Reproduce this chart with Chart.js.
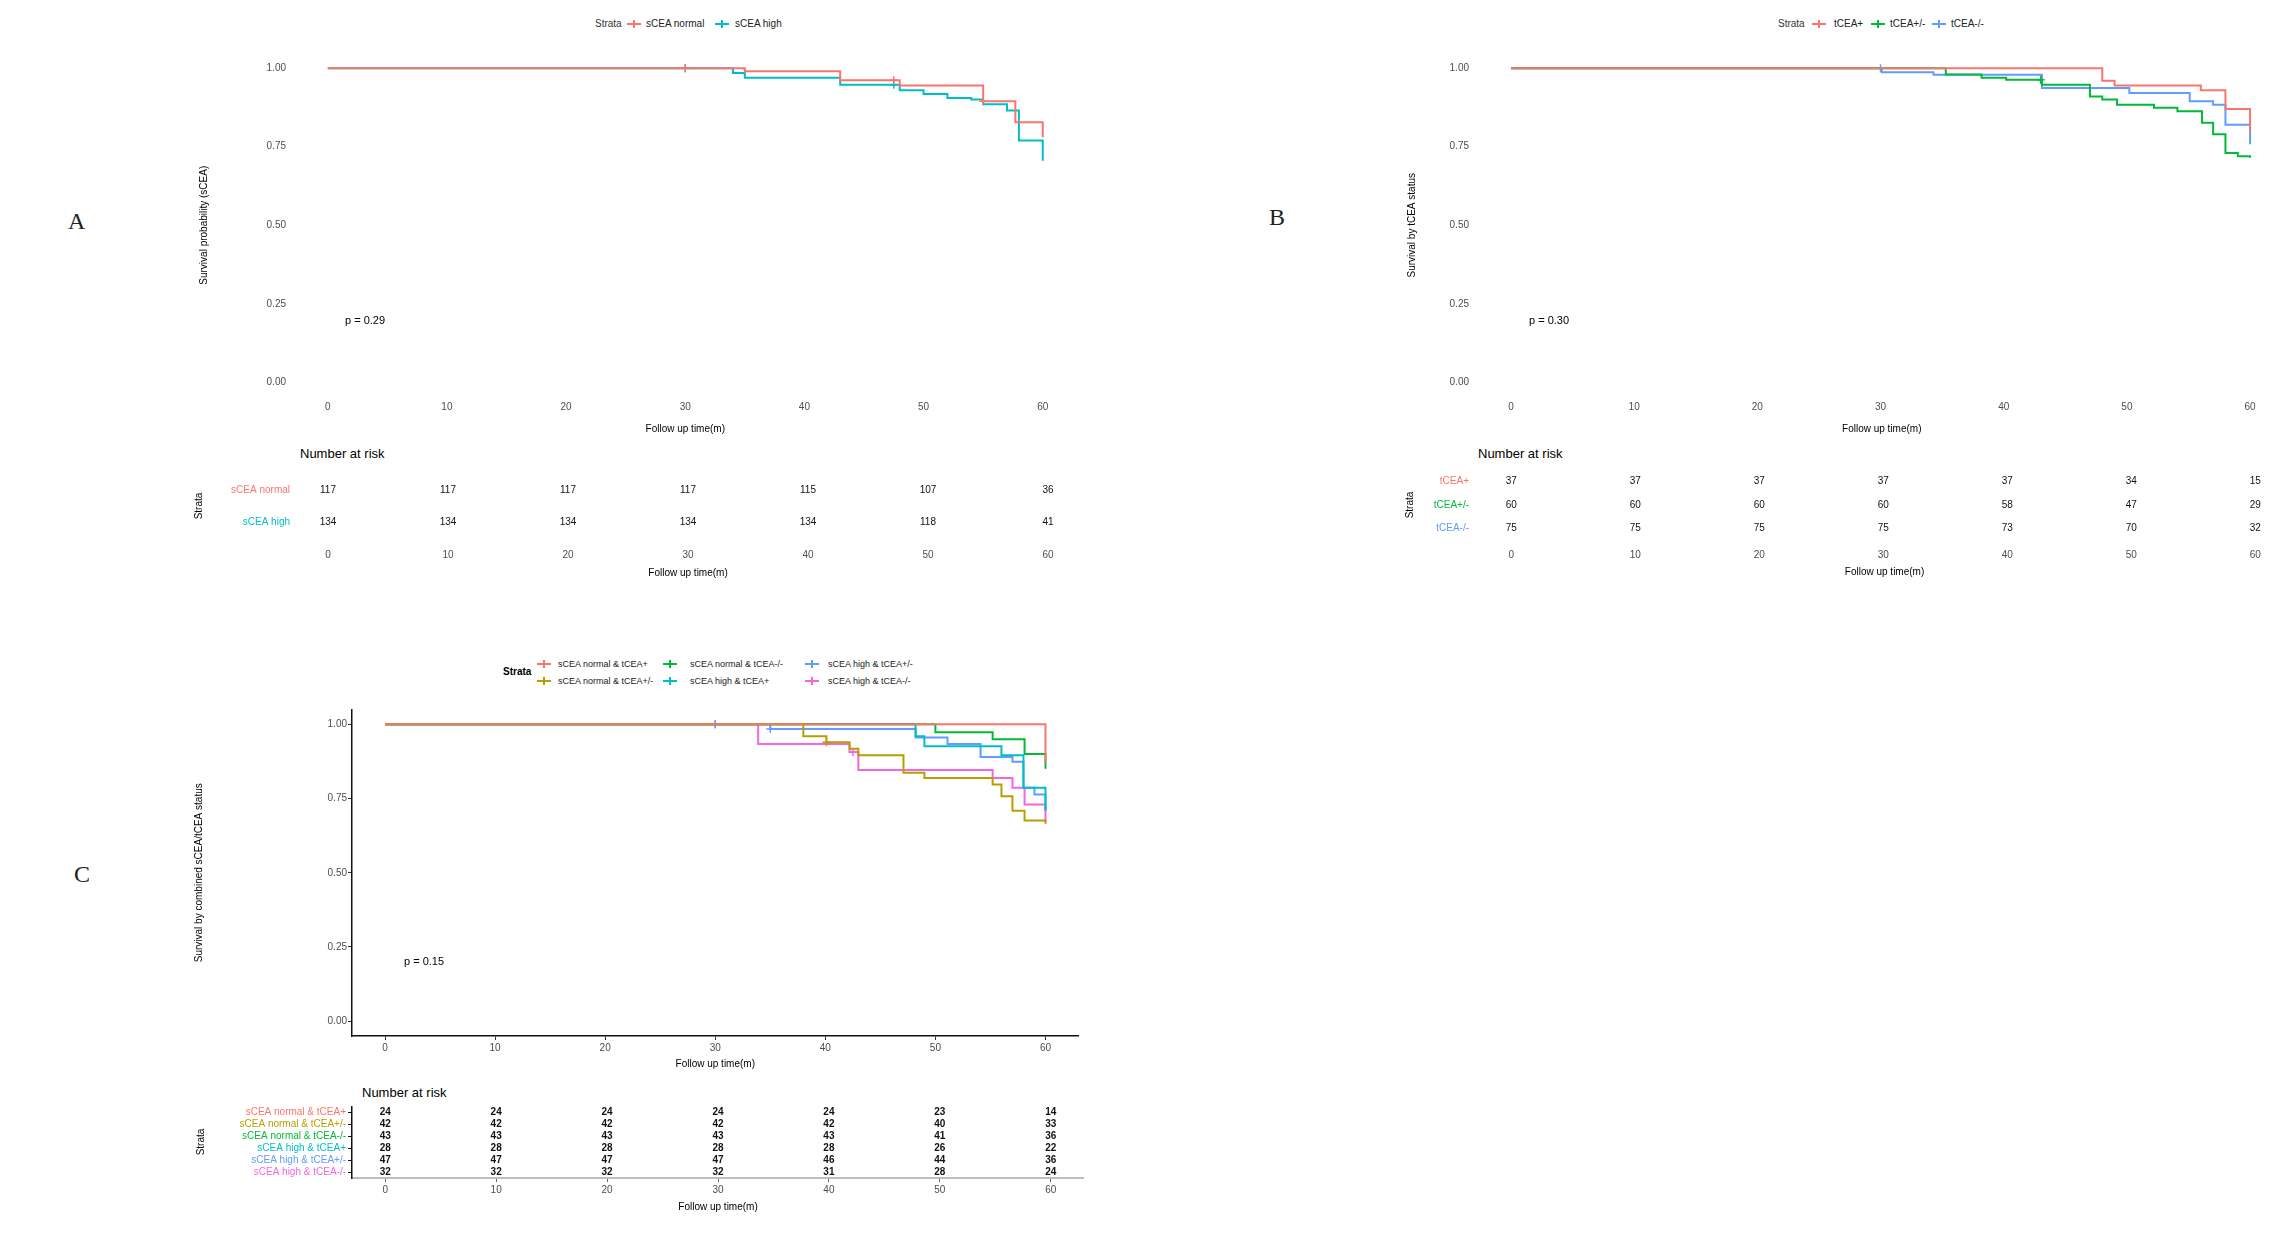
<!DOCTYPE html>
<html>
<head>
<meta charset="utf-8">
<script src="https://cdn.jsdelivr.net/npm/chart.js@4.4.1/dist/chart.umd.min.js"></script>
<style>
  html{margin:0;padding:0;width:2295px;height:1255px;overflow:hidden;background:#fff;}
  body{margin:0;padding:0;width:2295px;height:1255px;position:relative;overflow:hidden;background:#fff;font-family:"Liberation Sans",Arial,sans-serif;}
  .box{position:absolute;}
  .t{position:absolute;white-space:nowrap;transform:translateY(-50%);line-height:1;}
  .ln{position:absolute;height:2px;}
  .vt{position:absolute;width:1.5px;height:8px;}
</style>
</head>
<body>
<script>
// ---------------- DATA ----------------
const months = [0, 10, 20, 30, 40, 50, 60];
const yTicks = [0, 0.25, 0.5, 0.75, 1];

// Panel A (sCEA)
const strataA = ['sCEA normal', 'sCEA high'];
const colorsA = ['#F8766D', '#00BFC4'];
const timeA_normal = [0, 35, 43, 48, 55, 57.7, 60];
const survA_normal = [1, 0.99, 0.962, 0.945, 0.895, 0.828, 0.78];
const timeA_high = [0, 34, 35, 43, 48, 50, 52, 54, 55, 57, 58, 60];
const survA_high = [1, 0.985, 0.97, 0.947, 0.93, 0.918, 0.905, 0.9, 0.885, 0.865, 0.77, 0.705];
const censA_normal_t = [30, 47.5, 55];
const censA_normal_s = [1, 0.962, 0.895];
const censA_high_t = [30, 47.5];
const censA_high_s = [1, 0.947];
const riskA_normal = [117, 117, 117, 117, 115, 107, 36];
const riskA_high = [134, 134, 134, 134, 134, 118, 41];
const pA = 'p = 0.29';

// Panel B (tCEA)
const strataB = ['tCEA+', 'tCEA+/-', 'tCEA-/-'];
const colorsB = ['#F8766D', '#00BA38', '#619CFF'];
const timeB_pos = [0, 48, 49, 56, 58, 60];
const survB_pos = [1, 0.96, 0.945, 0.93, 0.87, 0.8];
const timeB_pm = [0, 35.3, 38.2, 40.2, 43.1, 47, 48, 49.2, 52.2, 54.1, 56.1, 57, 58, 59, 60];
const survB_pm = [1, 0.98, 0.97, 0.963, 0.947, 0.91, 0.9, 0.884, 0.874, 0.863, 0.826, 0.79, 0.73, 0.72, 0.715];
const timeB_neg = [0, 30.1, 34.3, 43.1, 50.2, 55.1, 57, 58, 60];
const survB_neg = [1, 0.987, 0.979, 0.937, 0.921, 0.895, 0.884, 0.82, 0.758];
const censB_pm_t = [43];
const censB_pm_s = [0.963];
const censB_neg_t = [30];
const censB_neg_s = [1];
const riskB_pos = [37, 37, 37, 37, 37, 34, 15];
const riskB_pm = [60, 60, 60, 60, 58, 47, 29];
const riskB_neg = [75, 75, 75, 75, 73, 70, 32];
const pB = 'p = 0.30';

// Panel C (combined)
const strataC = ['sCEA normal & tCEA+', 'sCEA normal & tCEA+/-', 'sCEA normal & tCEA-/-',
                 'sCEA high & tCEA+', 'sCEA high & tCEA+/-', 'sCEA high & tCEA-/-'];
const colorsC = ['#F8766D', '#B79F00', '#00BA38', '#00BFC4', '#619CFF', '#F564E3'];
const timeC1 = [0, 60];
const survC1 = [1, 0.87];
const timeC2 = [0, 38, 40.1, 42.2, 43, 47.1, 49, 55.2, 56, 57, 58.1, 60];
const survC2 = [1, 0.96, 0.94, 0.918, 0.896, 0.837, 0.819, 0.797, 0.758, 0.709, 0.676, 0.665];
const timeC3 = [0, 50, 55.2, 58.1, 60];
const survC3 = [1, 0.973, 0.95, 0.9, 0.85];
const timeC4 = [0, 48.2, 49, 56, 58, 60];
const survC4 = [1, 0.96, 0.926, 0.896, 0.786, 0.71];
const timeC5 = [0, 35, 48.2, 51.1, 54.1, 57, 58, 59, 60];
const survC5 = [1, 0.984, 0.956, 0.934, 0.89, 0.874, 0.786, 0.764, 0.71];
const timeC6 = [0, 33.9, 42.2, 43, 55.2, 57, 58.1, 60];
const survC6 = [1, 0.934, 0.907, 0.846, 0.819, 0.786, 0.73, 0.67];
const censC5_t = [30, 35]; const censC5_s = [1, 0.984];
const censC6_t = [30, 42.5]; const censC6_s = [1, 0.907];
const censC2_t = [40.1]; const censC2_s = [0.94];
const riskC = [
  [24, 24, 24, 24, 24, 23, 14],
  [42, 42, 42, 42, 42, 40, 33],
  [43, 43, 43, 43, 43, 41, 36],
  [28, 28, 28, 28, 28, 26, 22],
  [47, 47, 47, 47, 46, 44, 36],
  [32, 32, 32, 32, 31, 28, 24]
];
const pC = 'p = 0.15';

const xTitle = 'Follow up time(m)';
const yTitleA = 'Survival probability (sCEA)';
const yTitleB = 'Survival by tCEA status';
const yTitleC = 'Survival by combined sCEA/tCEA status';

// ---------------- HELPERS ----------------
const FONT = '"Liberation Sans", Arial, sans-serif';
const TICK_COLOR = '#4d4d4d';

function box(left, top, width, height) {
  const d = document.createElement('div');
  d.className = 'box';
  d.style.left = left + 'px'; d.style.top = top + 'px';
  d.style.width = width + 'px'; d.style.height = height + 'px';
  const c = document.createElement('canvas');
  d.appendChild(c);
  document.body.appendChild(d);
  return c;
}
function txt(x, y, s, size, color, extra) {
  const d = document.createElement('div');
  d.className = 't';
  d.textContent = s;
  d.style.left = x + 'px'; d.style.top = y + 'px';
  d.style.fontSize = size + 'px';
  d.style.color = color || '#000';
  if (extra) Object.assign(d.style, extra);
  document.body.appendChild(d);
  return d;
}
function key(x, y, color) {
  const l = document.createElement('div');
  l.className = 'ln'; l.style.left = x + 'px'; l.style.top = (y - 1) + 'px';
  l.style.width = '14px'; l.style.background = color;
  document.body.appendChild(l);
  const v = document.createElement('div');
  v.className = 'vt'; v.style.left = (x + 6) + 'px'; v.style.top = (y - 4) + 'px';
  v.style.background = color;
  document.body.appendChild(v);
}
function noPadY(s, w) { s.width = w; s.paddingTop = 0; s.paddingBottom = 0; }
function noPadX(s, h) { s.height = h; s.paddingLeft = 0; s.paddingRight = 0; }

function kmChart(canvas, series, o) {
  const datasets = [];
  series.forEach(s => {
    datasets.push({
      type: 'line', data: s.t.map((t, i) => ({x: t, y: s.s[i]})),
      borderColor: s.color, backgroundColor: s.color, borderWidth: 2,
      stepped: true, pointRadius: 0, fill: false
    });
    if (s.ct) datasets.push({
      type: 'scatter', data: s.ct.map((t, i) => ({x: t, y: s.cs[i]})),
      pointStyle: 'cross', pointRadius: 4, borderColor: s.color, borderWidth: 1.5,
      backgroundColor: s.color, showLine: false
    });
  });
  const axisOn = !!o.axis;
  new Chart(canvas, {
    type: 'line',
    data: {datasets},
    options: {
      responsive: true, maintainAspectRatio: false, animation: false,
      layout: {padding: 0},
      plugins: {legend: {display: false}, tooltip: {enabled: false}},
      scales: {
        x: {
          type: 'linear', min: -3, max: o.xMax || 63,
          afterBuildTicks: s => { s.ticks = months.map(v => ({value: v})); },
          ticks: {color: TICK_COLOR, font: {family: FONT, size: 10}, padding: o.xPad, maxRotation: 0, autoSkip: false,
                  callback: v => String(v)},
          grid: {display: axisOn, drawOnChartArea: false, drawTicks: axisOn, tickLength: 4, color: '#333'},
          border: {display: axisOn, color: '#111', width: 1.5},
          title: {display: true, text: xTitle, color: '#000', font: {family: FONT, size: 10}, padding: {top: 2, bottom: 4}},
          afterFit: s => noPadX(s, o.xH)
        },
        y: {
          type: 'linear', min: -0.05, max: 1.05,
          afterBuildTicks: s => { s.ticks = yTicks.map(v => ({value: v})); },
          ticks: {color: TICK_COLOR, font: {family: FONT, size: 10}, padding: o.yPad, callback: v => Number(v).toFixed(2)},
          grid: {display: axisOn, drawOnChartArea: false, drawTicks: axisOn, tickLength: 4, color: '#333'},
          border: {display: axisOn, color: '#111', width: 1.5},
          title: {display: true, text: o.yTitle, color: '#000', font: {family: FONT, size: 10}, padding: {top: 4, bottom: 4}},
          afterFit: s => noPadY(s, o.yW)
        }
      }
    }
  });
}

const riskPlugin = {
  id: 'riskNums',
  afterDraw(chart, args, opts) {
    const {ctx, scales: {x, y}} = chart;
    ctx.save();
    ctx.font = opts.font || ('10px ' + FONT);
    ctx.fillStyle = '#111';
    ctx.textAlign = 'center';
    ctx.textBaseline = 'middle';
    opts.rows.forEach((row, r) => {
      row.forEach((v, i) => {
        ctx.fillText(String(v), x.getPixelForValue(months[i]), y.getPixelForValue(r + 1));
      });
    });
    ctx.restore();
  }
};

function riskChart(canvas, names, colors, rows, o) {
  const n = names.length;
  const axisOn = !!o.axis;
  new Chart(canvas, {
    type: 'scatter',
    data: {datasets: []},
    plugins: [riskPlugin],
    options: {
      responsive: true, maintainAspectRatio: false, animation: false,
      layout: {padding: 0},
      plugins: {legend: {display: false}, tooltip: {enabled: false}, riskNums: {rows, font: o.font}},
      scales: {
        x: {
          type: 'linear', min: -3, max: o.xMax || 63,
          afterBuildTicks: s => { s.ticks = months.map(v => ({value: v})); },
          ticks: {color: TICK_COLOR, font: {family: FONT, size: 10}, padding: o.xPad, maxRotation: 0, autoSkip: false,
                  callback: v => String(v)},
          grid: {display: axisOn, drawOnChartArea: false, drawTicks: axisOn, tickLength: 4, color: '#666'},
          border: {display: axisOn, color: '#bdbdbd', width: 2},
          title: {display: true, text: xTitle, color: '#000', font: {family: FONT, size: 10}, padding: {top: 2, bottom: 4}},
          afterFit: s => noPadX(s, o.xH)
        },
        y: {
          type: 'linear', min: 0.5, max: n + 0.5, reverse: true,
          afterBuildTicks: s => { s.ticks = names.map((nm, i) => ({value: i + 1})); },
          ticks: {font: {family: FONT, size: o.labelSize || 10}, padding: o.yPad, autoSkip: false,
                  color: c => colors[c.index], callback: (v, i) => names[i]},
          grid: {display: axisOn, drawOnChartArea: false, drawTicks: axisOn, tickLength: 4, color: '#111'},
          border: {display: axisOn, color: '#111', width: 1.5},
          title: {display: true, text: 'Strata', color: '#000', font: {family: FONT, size: 10}, padding: {top: 4, bottom: 4}},
          afterFit: s => noPadY(s, o.yW)
        }
      }
    }
  });
}

// ---------------- PANEL LETTERS ----------------
const serif = {fontFamily: '"Liberation Serif","Times New Roman",serif'};
txt(68, 221, 'A', 24, '#222', serif);
txt(1269, 217, 'B', 24, '#222', serif);
txt(74, 874, 'C', 24, '#222', serif);

// ---------------- PANEL A ----------------
txt(595, 24, 'Strata', 10, '#333');
key(627, 24, colorsA[0]); txt(646, 24, strataA[0], 10, '#222');
key(715, 24, colorsA[1]); txt(735, 24, strataA[1], 10, '#222');

kmChart(box(194, 47, 890, 392), [
  {t: timeA_normal, s: survA_normal, color: colorsA[0], ct: censA_normal_t, cs: censA_normal_s},
  {t: timeA_high, s: survA_high, color: colorsA[1], ct: censA_high_t, cs: censA_high_s}
], {yTitle: yTitleA, yW: 98, xH: 41, xPad: 3, yPad: 6, axis: false});
txt(345, 320, pA, 11, '#000');
txt(300, 453, 'Number at risk', 13, '#000');
riskChart(box(189, 474, 895, 109), strataA, colorsA, [riskA_normal, riskA_high],
  {yW: 103, xH: 45, xPad: 11, yPad: 2, axis: false});

// ---------------- PANEL B (clipped at the right edge of the page) ----------------
txt(1778, 24, 'Strata', 10, '#333');
key(1812, 24, colorsB[0]); txt(1834, 24, strataB[0], 10, '#222');
key(1871, 24, colorsB[1]); txt(1890, 24, strataB[1], 10, '#222');
key(1932, 24, colorsB[2]); txt(1951, 24, strataB[2], 10, '#222');

kmChart(box(1402, 47, 893, 392), [
  {t: timeB_pos, s: survB_pos, color: colorsB[0]},
  {t: timeB_pm, s: survB_pm, color: colorsB[1], ct: censB_pm_t, cs: censB_pm_s},
  {t: timeB_neg, s: survB_neg, color: colorsB[2], ct: censB_neg_t, cs: censB_neg_s}
], {yTitle: yTitleB, yW: 72, xH: 41, xPad: 3, yPad: 5, axis: false, xMax: 63.2});
txt(1529, 320, pB, 11, '#000');
txt(1478, 453, 'Number at risk', 13, '#000');
riskChart(box(1400, 470, 895, 112), strataB, colorsB, [riskB_pos, riskB_pm, riskB_neg],
  {yW: 74, xH: 42, xPad: 9, yPad: 5, axis: false, xMax: 63.2});

// ---------------- PANEL C ----------------
txt(503, 672, 'Strata', 10, '#000', {fontWeight: 'bold'});
const cx = [537, 663, 805], tx = [558, 690, 828], ry = [664, 681];
for (let i = 0; i < 6; i++) {
  const col = Math.floor(i / 2), row = i % 2;
  key(cx[col], ry[row], colorsC[i]);
  txt(tx[col], ry[row], strataC[i], 9, '#222');
}

kmChart(box(189, 704, 895, 370), [
  {t: timeC1, s: survC1, color: colorsC[0]},
  {t: timeC2, s: survC2, color: colorsC[1], ct: censC2_t, cs: censC2_s},
  {t: timeC3, s: survC3, color: colorsC[2]},
  {t: timeC4, s: survC4, color: colorsC[3]},
  {t: timeC5, s: survC5, color: colorsC[4], ct: censC5_t, cs: censC5_s},
  {t: timeC6, s: survC6, color: colorsC[5], ct: censC6_t, cs: censC6_s}
], {yTitle: yTitleC, yW: 163, xH: 38, xPad: 2, yPad: 1, axis: true});
txt(404, 961, pC, 11, '#000');
txt(362, 1092, 'Number at risk', 13, '#000');
riskChart(box(191, 1106, 893, 111), strataC, colorsC, riskC,
  {yW: 161, xH: 39, xPad: 2, yPad: 2, axis: true, font: 'bold 10px ' + FONT, labelSize: 10});
</script>
</body>
</html>
